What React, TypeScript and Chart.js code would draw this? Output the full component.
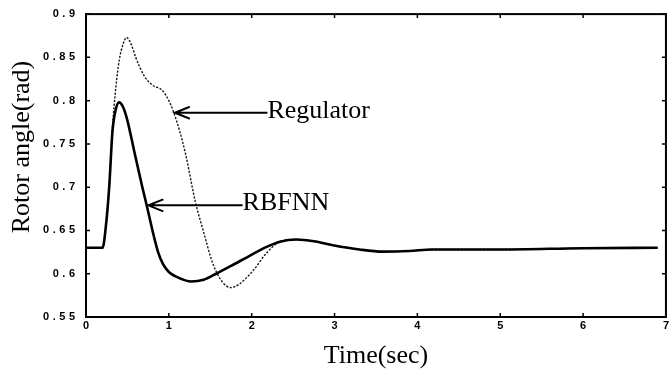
import React, { useEffect, useRef } from "react";
import { Chart, registerables } from "chart.js";

Chart.register(...registerables);

// Rotor angle response (rad) against time (sec)
const rbfTime = [0, 0.2, 0.24, 0.28, 0.32, 0.36, 0.4, 0.45, 0.5, 0.59, 0.68, 0.74, 0.82, 0.87, 0.93, 1.0, 1.1, 1.27, 1.42, 1.57, 1.75, 1.98, 2.18, 2.34, 2.54, 2.75, 2.98, 3.3, 3.58, 3.9, 4.18, 5.0, 6.0, 6.9];
const rbfAngle = [0.63, 0.63, 0.655, 0.7, 0.765, 0.79, 0.798, 0.792, 0.777, 0.738, 0.7, 0.676, 0.643, 0.625, 0.611, 0.602, 0.596, 0.591, 0.593, 0.6, 0.609, 0.621, 0.631, 0.637, 0.6395, 0.6375, 0.633, 0.628, 0.6255, 0.6262, 0.628, 0.628, 0.6295, 0.63];

const regTime = [0, 0.2, 0.24, 0.28, 0.32, 0.36, 0.4, 0.45, 0.49, 0.55, 0.6, 0.7, 0.8, 0.92, 1.0, 1.06, 1.13, 1.2, 1.32, 1.42, 1.53, 1.65, 1.75, 1.85, 2.02, 2.18, 2.34, 2.54, 2.75, 2.98, 3.3, 3.58, 3.9, 4.18, 5.0, 6.0, 6.9];
const regAngle = [0.63, 0.63, 0.655, 0.7, 0.77, 0.815, 0.846, 0.866, 0.873, 0.864, 0.85, 0.829, 0.818, 0.812, 0.8, 0.786, 0.765, 0.739, 0.683, 0.648, 0.612, 0.59, 0.584, 0.588, 0.604, 0.624, 0.637, 0.6395, 0.6375, 0.633, 0.628, 0.6255, 0.6262, 0.628, 0.628, 0.6295, 0.63];

const xMin = 0;
const xMax = 7;
const xStep = 1;
const yMin = 0.55;
const yMax = 0.9;
const yStep = 0.05;

const xTitle = "Time(sec)";
const yTitle = "Rotor angle(rad)";

// Callouts: label, arrow tip (time, angle), where the label begins (time)
const calloutLabels = ["Regulator", "RBFNN"];
const calloutTipTime = [1.06, 0.74];
const calloutTipAngle = [0.786, 0.679];
const calloutTextTime = [2.19, 1.89];

const SERIF = '"Liberation Serif", "Times New Roman", serif';
const SANS = '"Liberation Sans", Arial, sans-serif';
const TICK_SPACING = 3.5;

const spacingPlugin = {
  id: "tickLetterSpacing",
  beforeDraw(chart: any) {
    (chart.ctx as any).letterSpacing = `${TICK_SPACING}px`;
  },
};

const framePlugin = {
  id: "frameAndCallouts",
  afterDraw(chart: any) {
    const { ctx, chartArea: a, scales } = chart;
    const xs = scales.x;
    const ys = scales.y;
    (ctx as any).letterSpacing = "0px";
    ctx.save();
    ctx.strokeStyle = "#000";
    ctx.fillStyle = "#000";

    // box
    ctx.lineWidth = 2;
    ctx.strokeRect(a.left, a.top, a.right - a.left, a.bottom - a.top);

    // inward ticks on all four sides
    const len = 4;
    ctx.lineWidth = 1.5;
    ctx.beginPath();
    xs.ticks.forEach((t: any) => {
      const px = xs.getPixelForValue(t.value);
      ctx.moveTo(px, a.bottom);
      ctx.lineTo(px, a.bottom - len);
      ctx.moveTo(px, a.top);
      ctx.lineTo(px, a.top + len);
    });
    ys.ticks.forEach((t: any) => {
      const py = ys.getPixelForValue(t.value);
      ctx.moveTo(a.left, py);
      ctx.lineTo(a.left + len, py);
      ctx.moveTo(a.right, py);
      ctx.lineTo(a.right - len, py);
    });
    ctx.stroke();

    // callouts
    ctx.font = `26px ${SERIF}`;
    ctx.textAlign = "left";
    ctx.textBaseline = "middle";
    calloutLabels.forEach((label, i) => {
      const tipX = xs.getPixelForValue(calloutTipTime[i]);
      const tipY = ys.getPixelForValue(calloutTipAngle[i]);
      const textX = xs.getPixelForValue(calloutTextTime[i]);
      ctx.lineWidth = 2;
      ctx.beginPath();
      ctx.moveTo(tipX + 1, tipY);
      ctx.lineTo(textX, tipY);
      ctx.moveTo(tipX + 16, tipY - 6);
      ctx.lineTo(tipX + 1, tipY);
      ctx.lineTo(tipX + 16, tipY + 6);
      ctx.stroke();
      ctx.fillText(label, textX, tipY - 2);
    });

    // axis titles
    ctx.textAlign = "center";
    ctx.fillText(xTitle, (a.left + a.right) / 2, 356);
    ctx.save();
    ctx.translate(22, 147);
    ctx.rotate(-Math.PI / 2);
    ctx.fillText(yTitle, 0, 0);
    ctx.restore();

    ctx.restore();
  },
};

export default function App() {
  const canvasRef = useRef<HTMLCanvasElement | null>(null);

  useEffect(() => {
    const canvas = canvasRef.current;
    if (!canvas) return;
    const chart = new Chart(canvas, {
      type: "line",
      data: {
        datasets: [
          {
            label: "RBFNN",
            data: rbfTime.map((t, i) => ({ x: t, y: rbfAngle[i] })),
            borderColor: "#000",
            borderWidth: 2.6,
            pointRadius: 0,
            cubicInterpolationMode: "monotone",
            fill: false,
          },
          {
            label: "Regulator",
            data: regTime.map((t, i) => ({ x: t, y: regAngle[i] })),
            borderColor: "#1a1a1a",
            borderWidth: 1.4,
            borderDash: [2.2, 1.5],
            pointRadius: 0,
            cubicInterpolationMode: "monotone",
            fill: false,
          },
        ],
      },
      options: {
        animation: false,
        responsive: false,
        events: [],
        layout: { padding: { top: 13, right: 4, left: 0, bottom: 0 } },
        plugins: {
          legend: { display: false },
          tooltip: { enabled: false },
        },
        scales: {
          x: {
            type: "linear",
            min: xMin,
            max: xMax,
            grid: { display: false, drawTicks: false },
            border: { display: false },
            ticks: {
              stepSize: xStep,
              padding: 2,
              labelOffset: TICK_SPACING / 2,
              color: "#000",
              font: { family: SANS, size: 11, weight: "bold" },
            },
            afterFit: (s: any) => {
              s.height = 55;
            },
          },
          y: {
            type: "linear",
            min: yMin,
            max: yMax,
            grid: { display: false, drawTicks: false },
            border: { display: false },
            ticks: {
              stepSize: yStep,
              padding: 11 - TICK_SPACING,
              color: "#000",
              font: { family: SANS, size: 11, weight: "bold" },
              callback: (v: any) => String(Number(Number(v).toFixed(2))),
            },
            afterFit: (s: any) => {
              s.width = 86;
            },
          },
        },
      },
      plugins: [spacingPlugin, framePlugin],
    });
    return () => chart.destroy();
  }, []);

  return (
    <div style={{ position: "fixed", left: 0, top: 0, width: 671, height: 372, background: "#fff" }}>
      <canvas ref={canvasRef} width={671} height={372} style={{ display: "block" }} />
    </div>
  );
}
